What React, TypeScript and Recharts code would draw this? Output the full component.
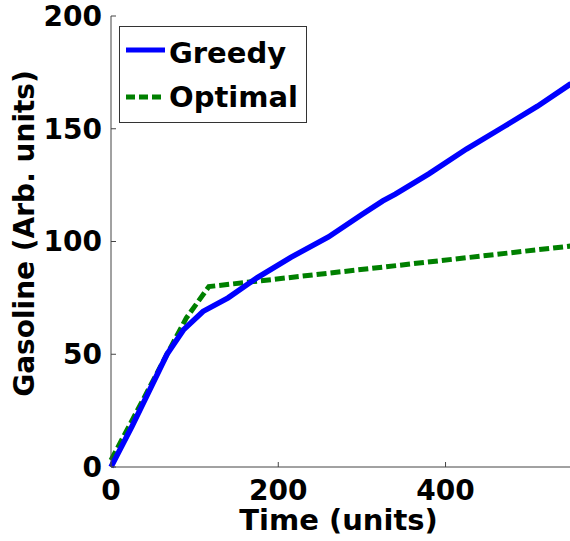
import { LineChart, Line, XAxis, YAxis, Legend } from 'recharts'

// values
const greedyTime = [0, 25, 50, 67, 87, 110, 140, 175, 215, 260, 300, 325, 340, 380, 425, 470, 510, 550]
const greedyGas = [0, 18, 37, 50, 61, 69, 75, 84, 93, 102, 112, 118, 121, 130, 141, 151, 160, 170]

const optimalTime = [0, 40, 67, 90, 117, 550]
const optimalGas = [3, 31, 50, 66, 80, 98]

const xTicks = [0, 200, 400]
const yTicks = [0, 50, 100, 150, 200]

const greedyData = greedyTime.map((t, i) => ({ t, gas: greedyGas[i] }))
const optimalData = optimalTime.map((t, i) => ({ t, gas: optimalGas[i] }))

const FONT = 'DejaVu Sans'
const AXIS = '#444'
const tickStyle = { fill: '#000', fontSize: 28, fontWeight: 'bold', fontFamily: FONT }
const noLabel = () => <g />

function LegendBox() {
  return (
    <svg width={188} height={97} style={{ display: 'block' }}>
      <rect x={0.5} y={0.5} width={187} height={96} fill="#fff" stroke="#333" />
      <line x1={7} y1={24} x2={46} y2={24} stroke="#0000ff" strokeWidth={5} />
      <text x={50} y={37} fontSize={29} fontWeight="bold" fontFamily={FONT} fill="#000">
        Greedy
      </text>
      <line x1={7} y1={71} x2={46} y2={71} stroke="#008000" strokeWidth={5} strokeDasharray="9 4" />
      <text x={50} y={81} fontSize={29} fontWeight="bold" fontFamily={FONT} fill="#000">
        Optimal
      </text>
    </svg>
  )
}

export default function App() {
  return (
    <div style={{ position: 'absolute', left: 0, top: 0, width: 570, height: 541, overflow: 'hidden', background: '#fff' }}>
      <LineChart width={575} height={541} margin={{ top: 16, right: 4, bottom: 0, left: 0 }}>
        <XAxis
          xAxisId="bottom"
          dataKey="t"
          type="number"
          domain={[0, 550]}
          ticks={xTicks}
          height={74}
          stroke={AXIS}
          tickSize={-5}
          tickMargin={18}
          tick={tickStyle}
          label={{
            content: (props: any) => {
              const vb = props.viewBox ?? { x: 111, y: 467, width: 460, height: 74 }
              return (
                <text
                  x={vb.x + vb.width / 2 - 2.5}
                  y={vb.y + 63}
                  textAnchor="middle"
                  fontSize={29}
                  fontWeight="bold"
                  fontFamily={FONT}
                  fill="#000"
                >
                  Time (units)
                </text>
              )
            },
          }}
        />
        <XAxis
          xAxisId="top"
          orientation="top"
          mirror
          dataKey="t"
          type="number"
          domain={[0, 550]}
          ticks={xTicks}
          height={0}
          stroke={AXIS}
          tickSize={5}
          tick={noLabel}
        />
        <YAxis
          yAxisId="left"
          type="number"
          domain={[0, 200]}
          ticks={yTicks}
          width={111}
          stroke={AXIS}
          tickSize={-5}
          tickMargin={14}
          tick={tickStyle}
          label={{
            content: (props: any) => {
              const vb = props.viewBox ?? { x: 0, y: 16, width: 111, height: 451 }
              const cx = vb.x + 34
              const cy = vb.y + vb.height / 2 - 8
              return (
                <text
                  x={cx}
                  y={cy}
                  transform={`rotate(-90, ${cx}, ${cy})`}
                  textAnchor="middle"
                  fontSize={28}
                  fontWeight="bold"
                  fontFamily={FONT}
                  fill="#000"
                >
                  Gasoline (Arb. units)
                </text>
              )
            },
          }}
        />
        <YAxis
          yAxisId="right"
          orientation="right"
          mirror
          type="number"
          domain={[0, 200]}
          ticks={yTicks}
          width={0}
          stroke={AXIS}
          tickSize={5}
          tick={noLabel}
        />
        <Legend
          layout="horizontal"
          align="center"
          verticalAlign="middle"
          wrapperStyle={{ left: 119, top: 26, width: 188, height: 97 }}
          content={() => <LegendBox />}
        />
        <Line
          xAxisId="bottom"
          yAxisId="left"
          data={optimalData}
          dataKey="gas"
          type="linear"
          stroke="#008000"
          strokeWidth={5}
          strokeDasharray="10 4"
          dot={false}
          isAnimationActive={false}
          name="Optimal"
        />
        <Line
          xAxisId="bottom"
          yAxisId="left"
          data={greedyData}
          dataKey="gas"
          type="linear"
          stroke="#0000ff"
          strokeWidth={5.5}
          dot={false}
          isAnimationActive={false}
          name="Greedy"
        />
      </LineChart>
    </div>
  )
}
